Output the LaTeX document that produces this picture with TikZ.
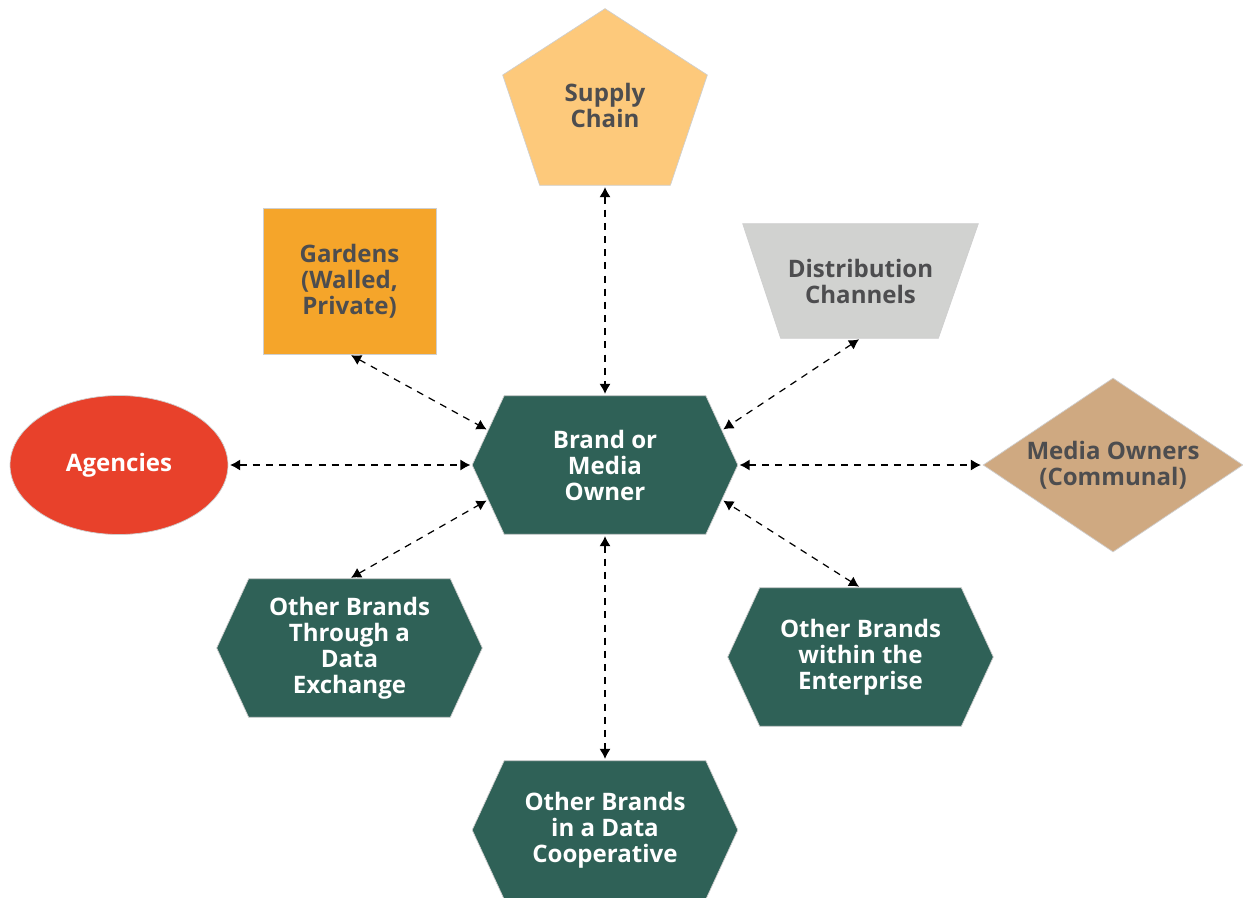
\documentclass[tikz,border=0pt]{standalone}
\usepackage{fontspec}
\setmainfont{Open Sans}
\usetikzlibrary{shapes.geometric}
\usetikzlibrary{arrows.meta}
\usetikzlibrary{backgrounds}
\usetikzlibrary{calc}

\definecolor{hexgreen}{HTML}{2F6157}
\definecolor{supplyorange}{HTML}{FDC97B}
\definecolor{gardenorange}{HTML}{F5A52A}
\definecolor{distribgray}{HTML}{D1D2D0}
\definecolor{mediatan}{HTML}{CFA981}
\definecolor{agencyred}{HTML}{E8412B}
\definecolor{labelgray}{HTML}{4D4D4F}
\definecolor{edgegray}{HTML}{CFCFCF}

\tikzset{
  lbl/.style={font=\fontsize{13.7}{14.8}\selectfont\bfseries, align=center, inner sep=0pt},
  darklbl/.style={lbl, text=white},
  lightlbl/.style={lbl, text=labelgray},
  hexnode/.style={darklbl, minimum width=5.3cm, minimum height=2.76cm},
  outline/.style={draw=edgegray, line width=.4pt},
  link/.style={dashed, dash pattern=on 4pt off 3.5pt, line width=.7pt,
    {Latex[length=2mm,width=2.2mm]}-{Latex[length=2mm,width=2.2mm]},
    shorten <=1pt, shorten >=1pt},
}

\begin{document}
\begin{tikzpicture}[x=0.02cm,y=-0.02cm]
  \useasboundingbox (0,0) rectangle (1243,898);

  % centre and the other hexagons
  \node[hexnode] (hub)  at (605,465)   {Brand or\\Media\\Owner};
  \node[hexnode] (exch) at (349.5,648) {Other Brands\\Through a\\Data\\Exchange};
  \node[hexnode] (ent)  at (860.5,657) {Other Brands\\within the\\Enterprise};
  \node[hexnode] (coop) at (605,830)   {Other Brands\\in a Data\\Cooperative};

  % outer partners
  \node[lightlbl, minimum width=4.08cm, minimum height=3.2cm] (supply) at (605,105) {Supply\\Chain};
  \node[lightlbl, outline, fill=gardenorange, minimum width=3.46cm, minimum height=2.92cm] (gardens) at (349.5,281) {Gardens\\(Walled,\\Private)};
  \node[lightlbl, minimum width=4.7cm, minimum height=2.28cm] (distrib) at (860.5,281) {Distribution\\Channels};
  \node[lightlbl, diamond, aspect=1.5, outline, fill=mediatan, minimum width=5.2cm, minimum height=3.48cm] (media) at (1113,465) {Media Owners\\(Communal)};
  \node[darklbl, ellipse, outline, fill=agencyred, minimum width=4.36cm, minimum height=2.78cm] (agencies) at (119,465) {Agencies};

  \begin{pgfonlayer}{background}
    \foreach \n in {hub,exch,ent,coop}
      \draw[outline, fill=hexgreen] (\n.west) -- ([xshift=.64cm]\n.north west) -- ([xshift=-.64cm]\n.north east)
        -- (\n.east) -- ([xshift=-.64cm]\n.south east) -- ([xshift=.64cm]\n.south west) -- cycle;
    \draw[outline, fill=supplyorange] ([yshift=.32cm]supply.north) -- ([yshift=.6cm]supply.east) -- ([xshift=-.74cm]supply.south east)
      -- ([xshift=.74cm]supply.south west) -- ([yshift=.6cm]supply.west) -- cycle;
    \draw[outline, fill=distribgray] (distrib.north west) -- (distrib.north east) -- ([xshift=-.8cm]distrib.south east)
      -- ([xshift=.76cm]distrib.south west) -- cycle;
  \end{pgfonlayer}

  % middle points of the slanted sides of the centre
  \coordinate (hubNW) at ($(hub.west)!.5!(hub.north west)+(16,0)$);
  \coordinate (hubNE) at ($(hub.east)!.5!(hub.north east)+(-16,0)$);
  \coordinate (hubSW) at ($(hub.west)!.5!(hub.south west)+(16,0)$);
  \coordinate (hubSE) at ($(hub.east)!.5!(hub.south east)+(-16,0)$);

  \draw[link] (supply.south) -- (hub.north);
  \draw[link] (gardens.south) -- (hubNW);
  \draw[link] (distrib.south) -- (hubNE);
  \draw[link] (agencies.east) -- (hub.west);
  \draw[link] (hub.east) -- (media.west);
  \draw[link] (exch.north) -- (hubSW);
  \draw[link] (ent.north) -- (hubSE);
  \draw[link] (hub.south) -- (coop.north);
\end{tikzpicture}
\end{document}
